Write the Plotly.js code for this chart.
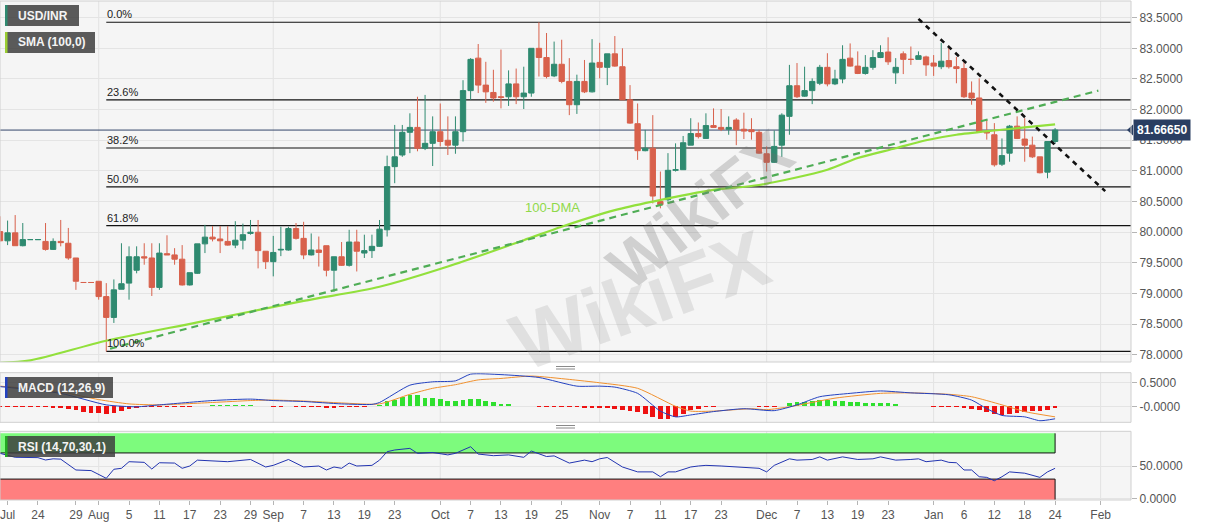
<!DOCTYPE html>
<html><head><meta charset="utf-8">
<script src="https://cdn.plot.ly/plotly-3.0.1.min.js"></script>
<style>html,body{margin:0;padding:0;background:#fff}#chart{width:1207px;height:526px}</style>
</head><body><div id="chart"></div>
<script>
// ---------------- DATA ----------------
const opens = [80.01,79.86,79.99,79.78,79.88,79.88,79.85,79.72,79.85,79.82,
79.58,79.18,79.18,79.20,78.95,78.61,79.07,79.17,79.38,79.60,
79.58,79.10,79.65,79.63,79.56,79.14,79.33,79.81,79.92,79.89,
79.85,79.79,79.87,79.98,80.00,79.69,79.52,79.71,79.71,80.06,
79.90,79.63,79.71,79.78,79.38,79.60,79.46,79.84,79.66,79.70,
79.77,80.04,81.07,81.26,81.63,81.71,81.37,81.45,81.64,81.50,
81.42,81.64,82.31,82.84,82.40,82.28,82.21,82.21,82.42,82.21,
82.27,83.00,82.85,82.55,82.74,82.46,82.08,82.46,82.29,82.77,
82.69,82.91,82.70,82.16,81.77,81.33,81.37,80.50,80.53,81.01,
81.02,81.42,81.61,81.53,81.74,81.71,81.68,81.83,81.68,81.67,
81.63,81.28,81.14,81.42,81.89,82.39,82.22,82.31,82.43,82.69,
82.42,82.50,82.84,82.71,82.59,82.69,82.85,82.94,82.60,82.91,
82.82,82.82,82.86,82.76,82.70,82.80,82.70,82.67,82.27,82.19,
81.64,81.59,81.11,81.29,81.73,81.52,81.42,81.23,80.98,81.48];
const highs = [80.26,80.19,80.28,80.15,79.88,79.88,80.15,79.90,80.20,80.07,
79.58,79.18,79.18,79.20,79.17,79.23,79.82,79.77,79.77,79.82,
79.82,79.82,79.95,79.74,79.79,79.34,79.81,80.12,80.10,80.10,
80.10,80.18,80.14,80.20,80.20,79.69,79.94,80.09,80.09,80.15,
80.17,79.98,79.93,79.78,79.60,79.84,80.04,80.04,79.96,79.96,
80.20,81.25,81.75,81.75,81.94,82.21,82.24,81.89,82.10,81.89,
81.89,82.48,82.84,83.07,82.78,82.65,82.98,82.64,82.67,82.70,
83.00,83.425,83.25,83.11,83.14,82.84,82.57,82.81,83.15,83.09,
82.91,83.20,83.00,82.40,82.10,81.67,81.91,80.99,81.29,81.45,
81.57,81.86,81.79,81.94,82.02,82.01,81.89,81.86,81.95,81.86,
81.67,81.40,81.66,81.94,82.73,82.76,82.70,82.51,82.73,82.92,
82.65,83.05,83.08,82.95,82.89,82.97,83.05,83.18,82.84,82.95,
83.03,82.95,82.88,82.89,83.09,83.04,82.86,82.78,82.46,82.51,
81.83,81.78,81.53,81.75,81.89,81.86,81.56,81.23,81.48,81.70];
const lows = [79.85,79.79,79.78,79.77,79.88,79.88,79.70,79.71,79.77,79.55,
79.06,79.18,79.18,78.90,78.055,78.52,79.07,78.90,79.33,79.47,
78.96,79.06,79.63,79.47,79.13,79.13,79.32,79.66,79.85,79.66,
79.78,79.74,79.72,79.96,79.41,79.40,79.28,79.61,79.70,79.88,
79.56,79.62,79.44,79.28,79.03,79.45,79.44,79.36,79.58,79.58,
79.76,79.93,80.80,81.23,81.29,81.32,81.34,81.08,81.40,81.26,
81.28,81.48,82.16,82.27,82.11,82.13,82.02,82.06,82.09,82.01,
82.21,82.54,82.51,82.53,82.43,81.91,81.93,82.27,82.28,82.51,
82.40,82.70,82.16,81.77,81.18,81.32,80.47,80.39,80.50,80.99,
81.02,81.42,81.53,81.53,81.70,81.65,81.59,81.42,81.52,81.51,
81.28,80.99,81.13,81.23,81.59,82.19,82.21,82.09,82.40,82.38,
82.40,82.43,82.70,82.58,82.57,82.65,82.84,82.73,82.42,82.58,
82.73,82.82,82.55,82.55,82.66,82.67,82.43,82.19,82.08,81.63,
81.51,81.07,81.08,81.15,81.52,81.15,81.21,80.96,80.88,81.44];
const closes = [79.86,79.99,79.78,79.88,79.88,79.88,79.72,79.85,79.83,79.58,
79.20,79.18,79.18,78.95,78.61,79.06,79.16,79.60,79.60,79.58,
79.10,79.66,79.63,79.56,79.14,79.34,79.81,79.92,79.89,79.86,
79.79,79.87,79.96,80.00,79.70,79.52,79.67,79.72,80.06,79.90,
79.63,79.71,79.67,79.38,79.60,79.46,79.84,79.69,79.70,79.77,
80.05,81.07,81.23,81.63,81.71,81.37,81.45,81.64,81.48,81.42,
81.64,82.31,82.82,82.40,82.29,82.19,82.20,82.42,82.21,82.27,
83.00,82.85,82.54,82.74,82.46,82.08,82.46,82.29,82.76,82.69,
82.91,82.71,82.16,81.78,81.33,81.37,80.59,80.45,81.01,81.02,
81.46,81.61,81.56,81.74,81.71,81.68,81.71,81.67,81.65,81.64,
81.29,81.14,81.40,81.91,82.39,82.21,82.31,82.46,82.69,82.42,
82.50,82.82,82.71,82.59,82.69,82.85,82.93,82.78,82.69,82.82,
82.82,82.88,82.73,82.71,82.79,82.70,82.67,82.21,82.19,81.64,
81.62,81.10,81.25,81.73,81.53,81.42,81.23,80.97,81.48,81.6665];

// 100-day SMA read at sample candles
const smaIdx = [0,4,14,26,40,50,59,69,74,81,86,94,100,109,113,118,122,126,131,135,139];
const smaVal = [77.87,77.91,78.23,78.53,78.88,79.11,79.44,79.87,80.09,80.36,80.50,80.69,80.77,81.02,81.21,81.37,81.50,81.59,81.66,81.71,81.76];

// trend lines (end points)
const trendUpIdx = [14.5,144.7];
const trendUpVal = [78.10,82.31];
const trendDownIdx = [121.0,145.6];
const trendDownVal = [83.48,80.67];

// Fibonacci ratios
const fibRatios = [0,0.236,0.382,0.5,0.618,1];

// MACD (12,26,9)
const macdIdx = [0,8,14,18,21,28,33,36,40,45,49,50,54,57,60,62,66,71,76,79,81,84,87,89,91,94,98,102,105,108,112,116,120,125,128,130,132,135,137,139];
const macdVal = [0.41,0.27,0.03,-0.01,0.03,0.12,0.15,0.12,0.10,0.05,0.04,0.08,0.44,0.51,0.53,0.67,0.66,0.60,0.42,0.42,0.40,0.27,-0.10,-0.22,-0.18,-0.11,-0.05,-0.09,0.03,0.20,0.27,0.32,0.28,0.24,0.13,-0.05,-0.19,-0.22,-0.30,-0.26];
const signalIdx = [0,8,13,17,21,28,33,36,40,45,50,54,57,60,63,66,70,75,79,84,89,91,94,99,101,104,110,116,120,125,128,132,135,139];
const signalVal = [0.42,0.30,0.14,0.05,0.03,0.08,0.12,0.13,0.11,0.07,0.05,0.25,0.375,0.45,0.55,0.58,0.63,0.56,0.49,0.375,0.0,-0.10,-0.10,-0.05,-0.07,-0.01,0.17,0.27,0.28,0.25,0.20,0.03,-0.11,-0.22];
const histVal = [-0.01,-0.01,-0.015,-0.015,-0.015,-0.02,-0.02,-0.025,-0.03,-0.06,
-0.08,-0.11,-0.13,-0.13,-0.15,-0.13,-0.10,-0.05,-0.03,-0.02,
-0.015,-0.01,-0.01,-0.01,-0.015,-0.01,0.01,0.015,0.02,0.02,
0.02,0.02,0.02,0.02,0.015,0.005,-0.005,-0.005,0.005,-0.005,
-0.01,-0.01,-0.02,-0.03,-0.03,-0.02,-0.01,-0.01,-0.005,0.005,
0.02,0.12,0.13,0.20,0.235,0.235,0.17,0.17,0.15,0.12,
0.12,0.13,0.15,0.15,0.12,0.10,0.05,0.04,0.005,0.005,
0.005,-0.005,-0.005,-0.005,-0.01,-0.02,-0.02,-0.03,-0.04,-0.04,
-0.04,-0.06,-0.08,-0.10,-0.125,-0.17,-0.22,-0.27,-0.27,-0.22,
-0.15,-0.08,-0.05,-0.02,-0.01,0.005,0.005,0.005,0.005,0.005,
-0.005,-0.01,-0.005,0.01,0.06,0.08,0.10,0.12,0.13,0.13,
0.12,0.12,0.10,0.08,0.075,0.06,0.06,0.06,0.05,0.01,
0.005,0.005,0.005,-0.005,-0.005,-0.01,-0.02,-0.04,-0.05,-0.08,
-0.11,-0.15,-0.18,-0.15,-0.14,-0.11,-0.10,-0.10,-0.07,-0.04];

// RSI (14,70,30,1)
const rsiIdx = [0,2,5,6,7,8,10,12,14,15,16,17,19,20,21,23,24,25,26,28,30,33,35,36,38,40,42,43,44,45,46,47,49,50,51,52,54,55,57,59,60,62,63,65,67,69,70,72,73,75,77,78,79,80,82,84,86,87,88,89,91,92,93,95,98,100,101,102,104,105,107,108,109,111,113,115,116,118,120,121,122,123,124,125,126,127,128,129,130,131,132,133,134,135,137,138,139];
const rsiVal = [69.4,63.3,62.8,59.2,61,60.5,43.9,43,31.2,45,46.5,56.6,55.6,45.4,55,54.5,46.5,50,59,58,56.6,60,48.5,51,60,48.5,50,43.9,48.5,46.5,54.5,50,51,59,71.9,74.5,77,69.4,70.7,67,69.4,79.5,68.3,65.8,67,63.3,72.9,64.5,65.5,54.5,59,56.6,61,63,48.5,41,41,33.6,41,41,48.5,50,51,50,48.5,46.5,41,51,61,59,60,64,59,64,60,61,64,59,60,61,56.6,57.6,59,55.6,55,43.9,43.9,33.6,32.6,27.5,33.6,41,40,39,32.6,41,46.5];
const rsiUpper = 70, rsiLower = 30;

// x-axis ticks (candle slots) and labels
const tickIdx = [1,5,10,13,17,21,25,29,33,36,40,44,48,52,58,62,66,70,74,79,83,87,91,95,101,105,109,113,117,123,127,131,135,139,145];
const tickText = ['Jul','24','29','Aug','5','11','17','23','29','Sep','7','13','19','23','Oct','7','13','19','25','Nov','7','11','17','23','Dec','7','13','19','23','Jan','6','12','18','24','Feb'];
const priceTicks = [78,78.5,79,79.5,80,80.5,81,81.5,82,82.5,83,83.5];

// ---------------- LAYOUT ----------------
const PW = 1131, PH = 500;            // plot area in px
const X_MAX = 149;
const px = x => x / PW;
const py = y => (PH - y) / PH;
const FONT = 'Liberation Sans, Arial, sans-serif';

const idx = opens.map((_, i) => i);
const lastIdx = idx[idx.length - 1];
const lastClose = closes[closes.length - 1];
const fibHigh = Math.max(...highs);
const fibLow = Math.min(...lows);
const fibStart = lows.indexOf(fibLow);

const traces = [
  {type:'candlestick', x: idx, open: opens, high: highs, low: lows, close: closes,
   xaxis:'x', yaxis:'y', whiskerwidth:0, hoverinfo:'skip', showlegend:false,
   increasing:{line:{color:'#2f8a70', width:1}, fillcolor:'#2f8a70'},
   decreasing:{line:{color:'#d8614c', width:1}, fillcolor:'#d8614c'}},
  {type:'scatter', mode:'lines', x: smaIdx, y: smaVal, xaxis:'x', yaxis:'y',
   line:{color:'#92e03c', width:2.2, shape:'spline', smoothing:0.8}, hoverinfo:'skip', showlegend:false},
  {type:'scatter', mode:'lines', x: trendUpIdx, y: trendUpVal, xaxis:'x', yaxis:'y',
   line:{color:'#4fad55', width:2.2, dash:'7px,5px'}, hoverinfo:'skip', showlegend:false},
  {type:'scatter', mode:'lines', x: trendDownIdx, y: trendDownVal, xaxis:'x', yaxis:'y',
   line:{color:'#111111', width:2.6, dash:'5px,5px'}, hoverinfo:'skip', showlegend:false},
  {type:'bar', x: idx, y: histVal, xaxis:'x', yaxis:'y2', width:0.62,
   marker:{color: histVal.map(v => v >= 0 ? '#2fe02f' : '#ee1111'), line:{width:0}},
   hoverinfo:'skip', showlegend:false},
  {type:'scatter', mode:'lines', x: signalIdx, y: signalVal, xaxis:'x', yaxis:'y2',
   line:{color:'#f0902e', width:1, shape:'spline', smoothing:0.6}, hoverinfo:'skip', showlegend:false},
  {type:'scatter', mode:'lines', x: macdIdx, y: macdVal, xaxis:'x', yaxis:'y2',
   line:{color:'#2442c0', width:1, shape:'spline', smoothing:0.6}, hoverinfo:'skip', showlegend:false},
  {type:'scatter', mode:'lines', x: rsiIdx, y: rsiVal, xaxis:'x', yaxis:'y3',
   line:{color:'#2234b0', width:1}, hoverinfo:'skip', showlegend:false}
];

const shapes = [];
const annotations = [];

// month grid lines
const monthGrid = tickIdx.filter((v, i) => isNaN(Number(tickText[i])) && v > 2);
['y','y2','y3'].forEach(ya => {
  monthGrid.forEach(m => shapes.push({type:'line', xref:'x', yref: ya + ' domain', x0:m, x1:m, y0:0, y1:1,
    line:{color:'#e2e2e2', width:1}, layer:'below'}));
});

// RSI bands
shapes.push({type:'rect', xref:'x', yref:'y3', x0:0, x1:lastIdx, y0:rsiUpper, y1:100,
  fillcolor:'#7dfb7d', line:{width:0}, layer:'between'});
shapes.push({type:'rect', xref:'x', yref:'y3', x0:0, x1:lastIdx, y0:-2, y1:rsiLower,
  fillcolor:'#ff7f7f', line:{width:0}, layer:'between'});
shapes.push({type:'path', xref:'x', yref:'y3', path:`M0,${rsiUpper}L${lastIdx},${rsiUpper}L${lastIdx},100`,
  line:{color:'#111', width:1}, layer:'between'});
shapes.push({type:'path', xref:'x', yref:'y3', path:`M0,${rsiLower}L${lastIdx},${rsiLower}L${lastIdx},-2`,
  line:{color:'#111', width:1}, layer:'between'});

// Fibonacci levels
fibRatios.forEach(r => {
  const lvl = fibHigh - r * (fibHigh - fibLow);
  shapes.push({type:'line', xref:'x', yref:'y', x0:fibStart, x1:X_MAX, y0:lvl, y1:lvl,
    line:{color:'#111', width:1.2}, layer:'between'});
  annotations.push({xref:'x', yref:'y', x:fibStart, y:lvl, xanchor:'left', yanchor:'bottom',
    text:(r*100).toFixed(1) + '%', showarrow:false, yshift:0, xshift:-1,
    font:{family:FONT, size:11, color:'#222'}});
});

// current price line + label
shapes.push({type:'line', xref:'paper', yref:'y', x0:0, x1:1, y0:lastClose, y1:lastClose,
  line:{color:'#34466a', width:1}, layer:'between'});
shapes.push({type:'path', xref:'paper', yref:'y',
  path:`M${px(PW-4)},${lastClose}L${px(PW+2)},${lastClose+0.09}L${px(PW+2)},${lastClose-0.09}Z`,
  fillcolor:'#2a3e62', line:{width:0}, layer:'above'});
annotations.push({xref:'paper', yref:'y', x:1, y:lastClose, xanchor:'left', yanchor:'middle', xshift:2,
  text:'<b>' + lastClose.toFixed(5) + '</b>', showarrow:false, bgcolor:'#2a3e62', borderpad:3,
  font:{family:FONT, size:12, color:'#ffffff'}});

// panel borders
['y','y2','y3'].forEach(ya => shapes.push({type:'rect', xref:'x domain', yref: ya + ' domain',
  x0:0, x1:1, y0:0, y1:1, line:{color:'#cfcfcf', width:1}, layer:'above'}));

// legend boxes
function labelBox(x0, x1, y0, y1, barColor, text) {
  shapes.push({type:'rect', xref:'paper', yref:'paper', x0:px(x0), x1:px(x1), y0:py(y1), y1:py(y0),
    fillcolor:'rgba(62,62,62,0.85)', line:{width:0}, layer:'above'});
  shapes.push({type:'rect', xref:'paper', yref:'paper', x0:px(x0), x1:px(x0+2.5), y0:py(y1), y1:py(y0),
    fillcolor:barColor, line:{width:0}, layer:'above'});
  annotations.push({xref:'paper', yref:'paper', x:px(x0+11), y:py((y0+y1)/2), xanchor:'left', yanchor:'middle',
    text:'<b>' + text + '</b>', showarrow:false, font:{family:FONT, size:12, color:'#f4f4f4'}});
}
labelBox(5, 79, 5, 26, '#2f8a70', 'USD/INR');
labelBox(5, 95, 32, 53, '#9acd32', 'SMA (100,0)');
labelBox(5, 113, 377, 398, '#2442c0', 'MACD (12,26,9)');
labelBox(5, 115, 436, 457, '#22aa22', 'RSI (14,70,30,1)');

// panel resize handles
[[366.5,369],[425.5,428]].forEach(pair => pair.forEach(yy => shapes.push({type:'line', xref:'paper', yref:'paper',
  x0:px(556), x1:px(575), y0:py(yy), y1:py(yy), line:{color:'#8a8a8a', width:1}, layer:'above'})));

// 100-DMA label
annotations.push({xref:'x', yref:'y', x:72.8, y:80.40, text:'100-DMA', showarrow:false,
  font:{family:FONT, size:13, color:'#8fd94a'}});

// watermark
annotations.push({xref:'paper', yref:'paper', x:px(700), y:py(210), text:'<b>WikiFX</b>', showarrow:false,
  textangle:-38, font:{family:FONT, size:64, color:'rgba(110,110,110,0.28)'}});
annotations.push({xref:'paper', yref:'paper', x:px(640), y:py(300), text:'<b>WikiFX</b>', showarrow:false,
  textangle:-20, font:{family:FONT, size:80, color:'rgba(150,150,150,0.22)'}});

const axisCommon = {showline:false, zeroline:false, ticks:'outside', ticklen:5, tickcolor:'#b5b5b5',
  tickfont:{family:FONT, size:12, color:'#555'}, gridcolor:'#e4e4e4', side:'right', anchor:'x', fixedrange:true};

const layout = {
  width:1207, height:526,
  margin:{l:0, r:76, t:0, b:26, pad:0},
  paper_bgcolor:'#ffffff', plot_bgcolor:'#f5f5f5',
  showlegend:false, dragmode:false, hovermode:false,
  bargap:0, boxgap:0.3, boxgroupgap:0,
  font:{family:FONT, size:12, color:'#555'},
  xaxis:{anchor:'y3', range:[0, X_MAX], tickvals:tickIdx, ticktext:tickText, ticks:'outside', ticklen:4,
    tickcolor:'#b5b5b5', showgrid:false, zeroline:false, showline:false, rangeslider:{visible:false},
    ticklabeloverflow:'allow',
    tickfont:{family:FONT, size:12, color:'#555'}, fixedrange:true},
  yaxis:Object.assign({}, axisCommon, {domain:[0.276, 0.998], range:[77.883, 83.772],
    tickvals:priceTicks, ticktext:priceTicks.map(v => v.toFixed(4))}),
  yaxis2:Object.assign({}, axisCommon, {domain:[0.1554, 0.2546], range:[-0.333, 0.70],
    tickvals:[0.5, 0], ticktext:['0.5000', '-0.0000']}),
  yaxis3:Object.assign({}, axisCommon, {domain:[0, 0.1374], range:[-2, 103.1],
    tickvals:[50, 0], ticktext:['50.0000', '0.0000']}),
  shapes: shapes,
  annotations: annotations
};

Plotly.newPlot('chart', traces, layout, {displayModeBar:false, staticPlot:true});
</script></body></html>
